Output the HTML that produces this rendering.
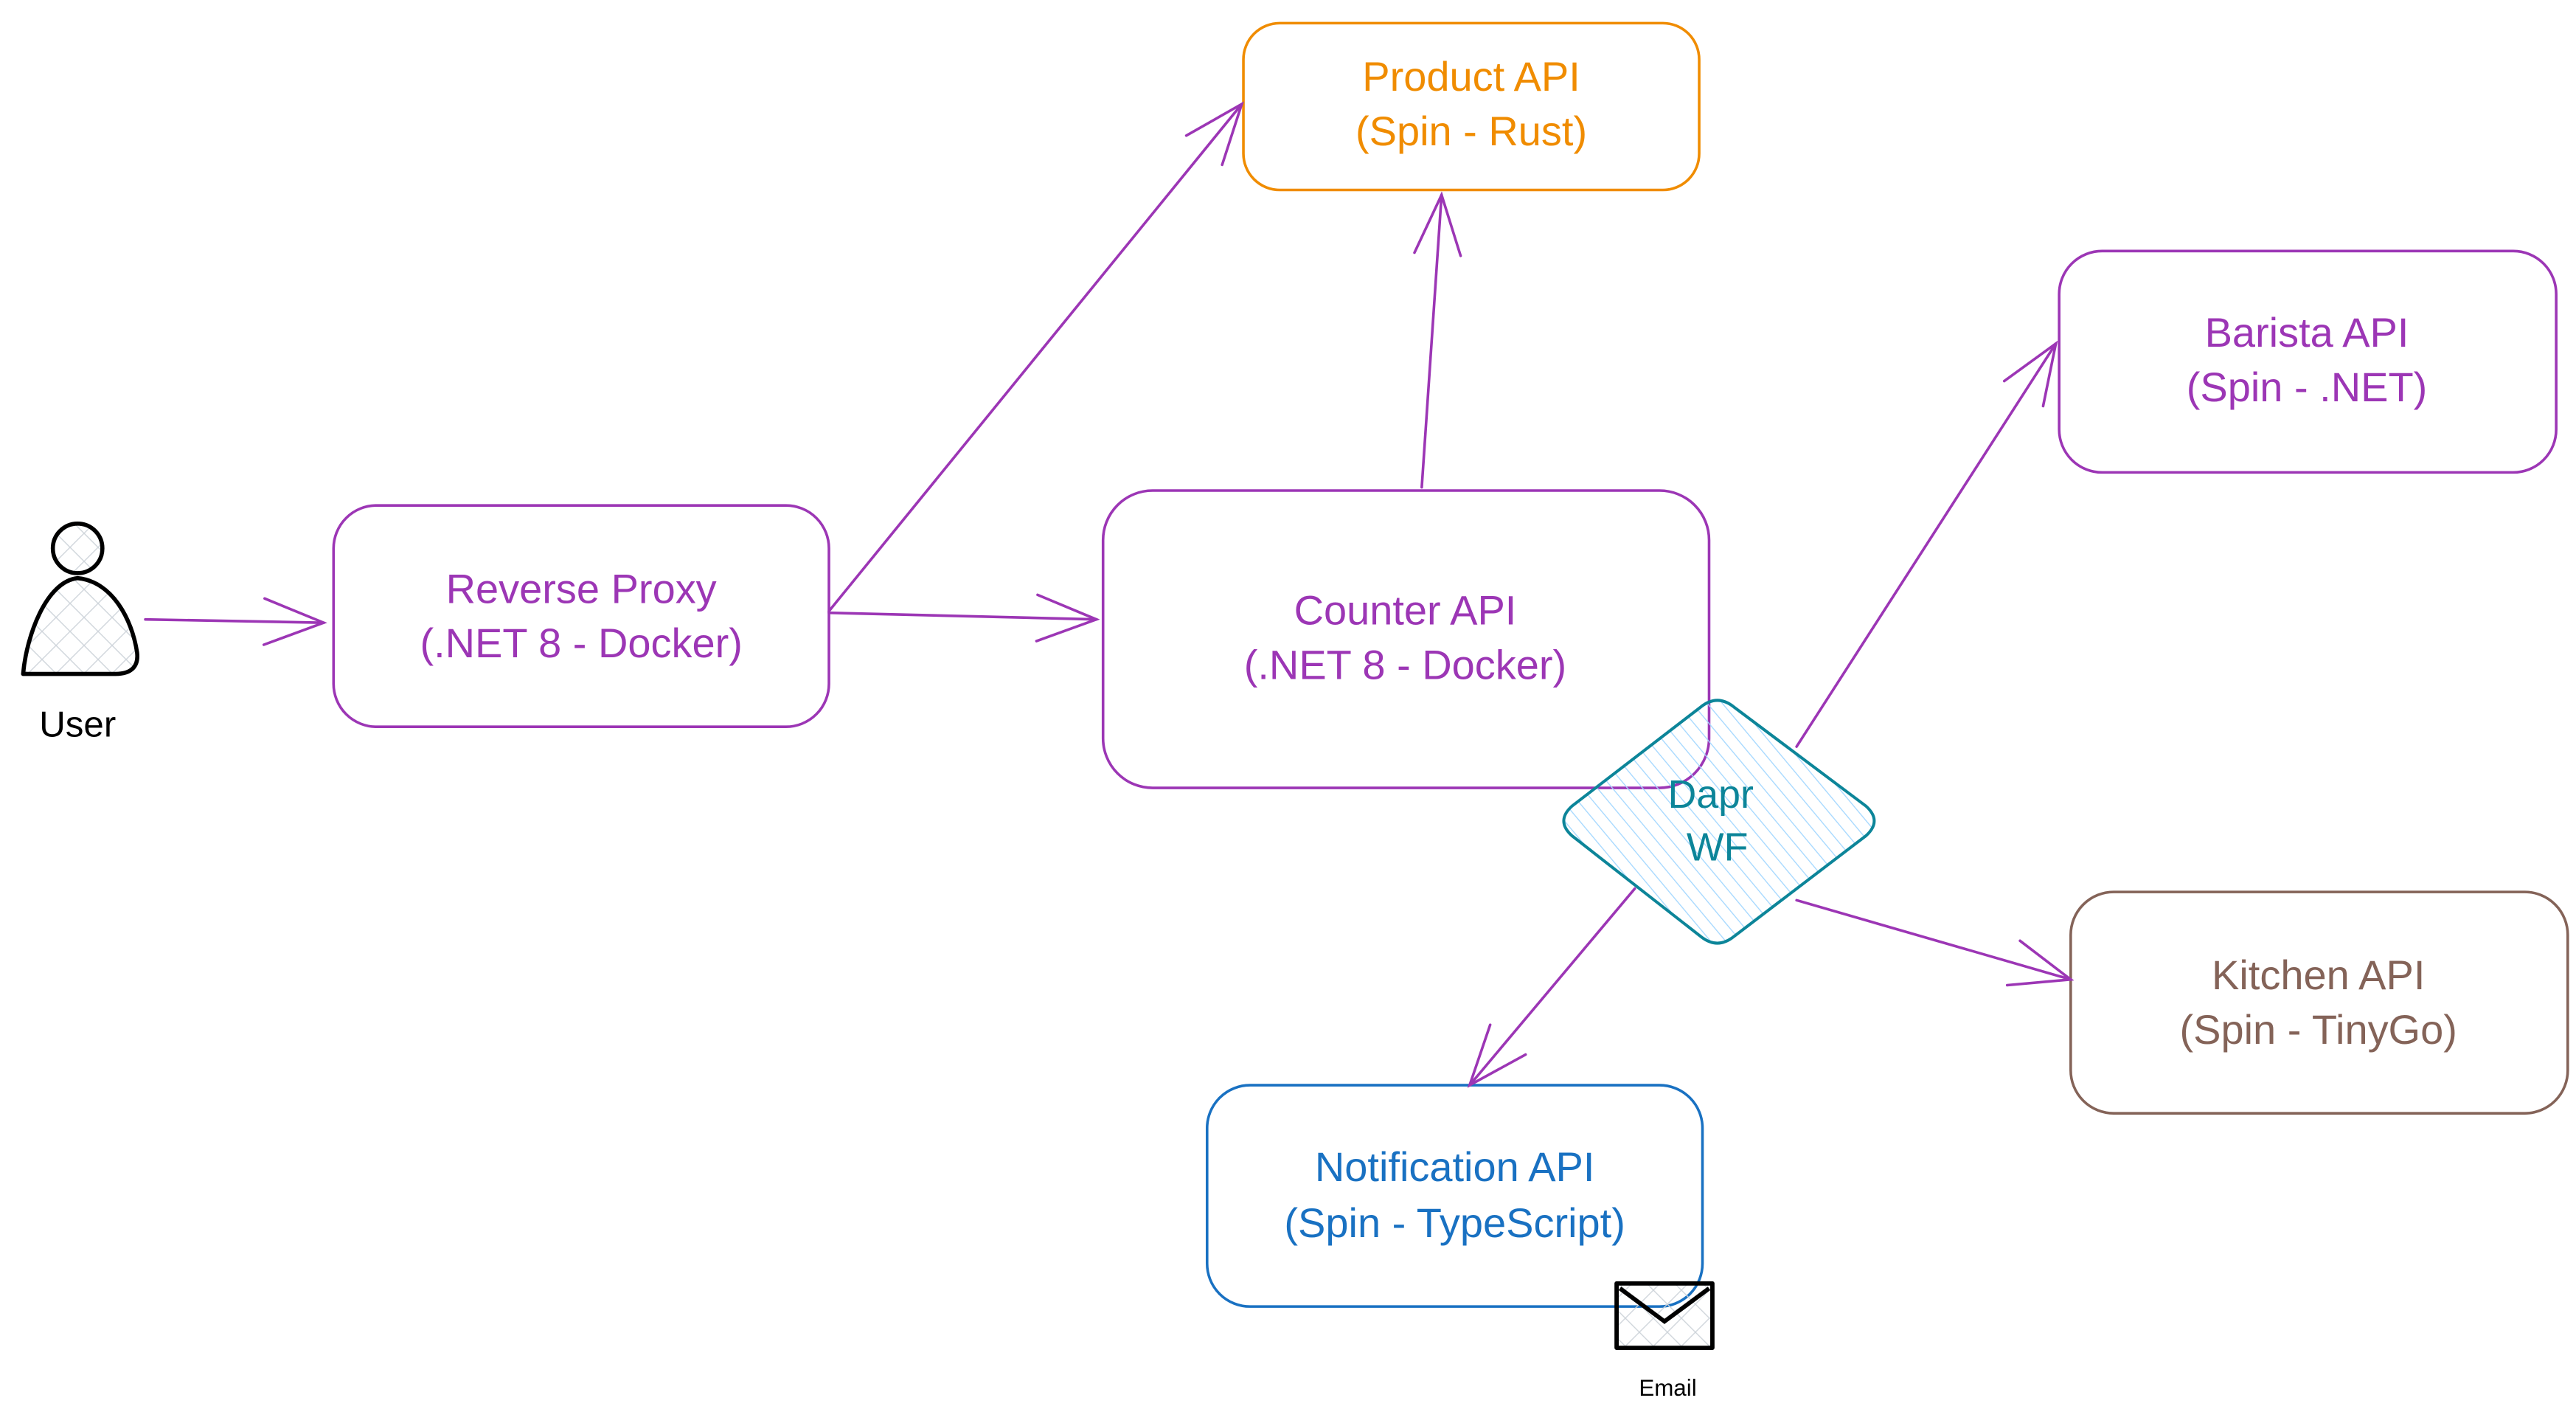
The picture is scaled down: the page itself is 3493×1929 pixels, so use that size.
<!DOCTYPE html>
<html><head><meta charset="utf-8"><style>
html,body{margin:0;padding:0;background:#fff;}
svg{display:block;}
text{font-family:"Liberation Sans",sans-serif;}
</style></head><body>
<svg width="3493" height="1929" viewBox="0 0 1560 861.5" xmlns="http://www.w3.org/2000/svg">
<defs>
<marker id="ah" viewBox="0 0 40 40" refX="38" refY="20" markerWidth="40" markerHeight="40" markerUnits="userSpaceOnUse" orient="auto">
<path d="M2 6 L38 20 L2 34" fill="none" stroke="#9c36b5" stroke-width="1.6" stroke-linecap="round"/>
</marker>
<pattern id="hb" width="7" height="7" patternUnits="userSpaceOnUse" patternTransform="rotate(-40)">
<line x1="0" y1="0" x2="0" y2="7" stroke="#a5d8ff" stroke-width="1.2"/>
</pattern>
<pattern id="hg" width="12" height="12" patternUnits="userSpaceOnUse" patternTransform="rotate(45)">
<line x1="0" y1="0" x2="0" y2="12" stroke="#ced4da" stroke-width="1.2"/>
<line x1="0" y1="0" x2="12" y2="0" stroke="#ced4da" stroke-width="1.2"/>
</pattern>
</defs>
<rect width="1560" height="861.5" fill="#fff"/>

<!-- User -->
<circle cx="47" cy="332" r="15" fill="url(#hg)" stroke="#000" stroke-width="2.5"/>
<path d="M47 350 C28 352 16 385 14 408 L70 408 C80 408 84 403 83 395 C80 375 68 352 47 350 Z" fill="url(#hg)" stroke="#000" stroke-width="2.5" stroke-linejoin="round"/>
<text x="47" y="446" font-size="22" text-anchor="middle" fill="#000">User</text>

<!-- Boxes -->
<g fill="none" stroke-width="1.6">
<rect x="202" y="306" width="300" height="134" rx="26" stroke="#9c36b5"/>
<rect x="753" y="14" width="276" height="101" rx="22" stroke="#f08c00"/>
<rect x="668" y="297" width="367" height="180" rx="30" stroke="#9c36b5"/>
<rect x="1247" y="152" width="301" height="134" rx="26" stroke="#9c36b5"/>
<rect x="1254" y="540" width="301" height="134" rx="26" stroke="#846358"/>
<rect x="731" y="657" width="300" height="134" rx="26" stroke="#1971c2"/>
</g>

<g font-size="25" text-anchor="middle">
<text x="352" y="365" fill="#9c36b5">Reverse Proxy</text>
<text x="352" y="398" fill="#9c36b5">(.NET 8 - Docker)</text>
<text x="891" y="55" fill="#f08c00">Product API</text>
<text x="891" y="88" fill="#f08c00">(Spin - Rust)</text>
<text x="851" y="378" fill="#9c36b5">Counter API</text>
<text x="851" y="411" fill="#9c36b5">(.NET 8 - Docker)</text>
<text x="1397" y="210" fill="#9c36b5">Barista API</text>
<text x="1397" y="243" fill="#9c36b5">(Spin - .NET)</text>
<text x="1404" y="599" fill="#846358">Kitchen API</text>
<text x="1404" y="632" fill="#846358">(Spin - TinyGo)</text>
<text x="881" y="715" fill="#1971c2">Notification API</text>
<text x="881" y="749" fill="#1971c2">(Spin - TypeScript)</text>
</g>

<!-- Diamond -->
<path d="M1030 428 Q1040 420 1050 428 L1130 488 Q1140 497 1130 506 L1050 567 Q1040 575 1030 567 L952 506 Q942 497 952 488 Z" fill="url(#hb)" stroke="#0c8599" stroke-width="1.8" stroke-linejoin="round"/>
<text x="1036" y="489" font-size="24" text-anchor="middle" fill="#0c8599">Dapr</text>
<text x="1040" y="521" font-size="24" text-anchor="middle" fill="#0c8599">WF</text>

<!-- Arrows -->
<g stroke="#9c36b5" stroke-width="1.6" fill="none" stroke-linecap="round" marker-end="url(#ah)">
<line x1="88" y1="375" x2="196" y2="377"/>
<line x1="502" y1="370" x2="752" y2="63"/>
<line x1="502" y1="371" x2="664" y2="375"/>
<line x1="861" y1="295" x2="873" y2="118"/>
<line x1="1088" y1="452" x2="1245" y2="208"/>
<line x1="1088" y1="545" x2="1254" y2="593"/>
<line x1="990" y1="538" x2="890" y2="657"/>
</g>

<!-- Email -->
<rect x="979" y="777" width="58" height="39" fill="url(#hg)" stroke="#000" stroke-width="2.6" stroke-linejoin="round"/>
<path d="M981 780 L1008 800 L1035 780" fill="none" stroke="#000" stroke-width="2.6"/>
<text x="1010" y="845" font-size="14" text-anchor="middle" fill="#000">Email</text>
</svg>
</body></html>
